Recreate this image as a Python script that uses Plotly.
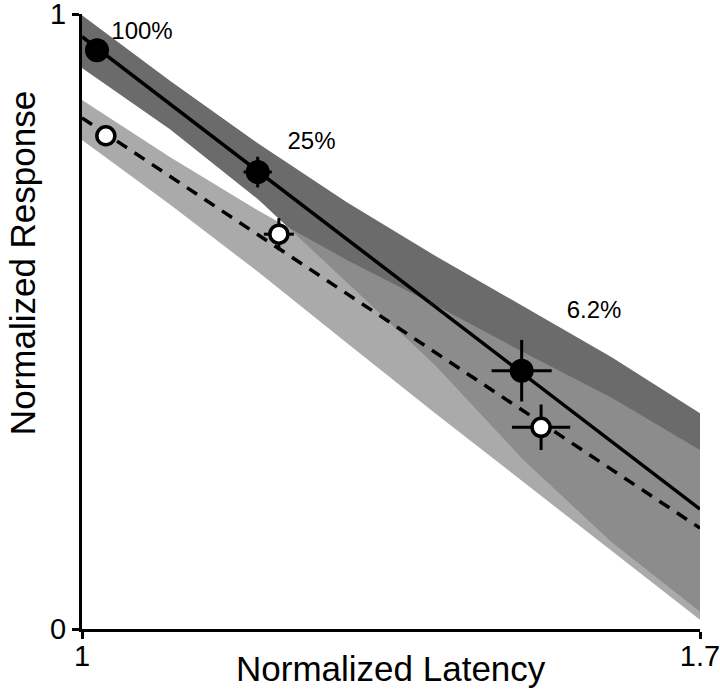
import plotly.graph_objects as go

# ---- data ----
# concentration labels
labels = ["100%", "25%", "6.2%"]

# filled points (solid series)
fill_x = [1.017, 1.199, 1.498]
fill_y = [0.941, 0.743, 0.420]
fill_xerr = [0.005, 0.016, 0.034]
fill_yerr = [0.008, 0.025, 0.050]

# open points (dashed series)
open_x = [1.027, 1.223, 1.520]
open_y = [0.802, 0.642, 0.328]
open_xerr = [0.004, 0.017, 0.033]
open_yerr = [0.006, 0.026, 0.037]

# regression lines
fit_x = [1.0, 1.7]
solid_fit_y = [0.963, 0.195]
dashed_fit_y = [0.831, 0.164]

# confidence bands
band_x = [1.0, 1.1, 1.2, 1.3, 1.4, 1.5, 1.6, 1.7]
solid_upper = [0.998, 0.891, 0.789, 0.694, 0.607, 0.525, 0.442, 0.351]
solid_lower = [0.912, 0.812, 0.698, 0.564, 0.429, 0.275, 0.141, 0.028]
dashed_upper = [0.860, 0.767, 0.680, 0.600, 0.527, 0.450, 0.376, 0.291]
dashed_lower = [0.795, 0.690, 0.580, 0.465, 0.351, 0.239, 0.127, 0.015]

# label positions (data coords)
label_x = [1.068, 1.260, 1.580]
label_y = [0.969, 0.790, 0.515]

FONT = "Liberation Sans, Arial, Helvetica, sans-serif"

fig = go.Figure()

# dark band
fig.add_trace(go.Scatter(
    x=band_x + band_x[::-1], y=solid_upper + solid_lower[::-1],
    fill="toself", fillcolor="rgb(107,107,107)", mode="lines",
    line=dict(width=0), hoverinfo="skip", showlegend=False))
# light band (translucent, on top)
fig.add_trace(go.Scatter(
    x=band_x + band_x[::-1], y=dashed_upper + dashed_lower[::-1],
    fill="toself", fillcolor="rgba(149,149,149,0.8)", mode="lines",
    line=dict(width=0), hoverinfo="skip", showlegend=False))

# fit lines
fig.add_trace(go.Scatter(x=fit_x, y=solid_fit_y, mode="lines",
                         line=dict(color="black", width=3.5), showlegend=False))
fig.add_trace(go.Scatter(x=fit_x, y=dashed_fit_y, mode="lines",
                         line=dict(color="black", width=3.5, dash="12px,9px"),
                         showlegend=False))

# open points
fig.add_trace(go.Scatter(
    x=open_x, y=open_y, mode="markers",
    marker=dict(size=18, color="white", line=dict(color="black", width=3.5)),
    error_x=dict(type="data", array=open_xerr, color="black", thickness=3, width=0),
    error_y=dict(type="data", array=open_yerr, color="black", thickness=3, width=0),
    cliponaxis=False, showlegend=False))

# filled points
fig.add_trace(go.Scatter(
    x=fill_x, y=fill_y, mode="markers",
    marker=dict(size=24, color="black", line=dict(width=0)),
    error_x=dict(type="data", array=fill_xerr, color="black", thickness=3, width=0),
    error_y=dict(type="data", array=fill_yerr, color="black", thickness=3, width=0),
    cliponaxis=False, showlegend=False))

# concentration labels
fig.add_trace(go.Scatter(
    x=label_x, y=label_y, mode="text", text=labels,
    textfont=dict(family=FONT, size=24, color="black"),
    textposition="middle center", cliponaxis=False, showlegend=False))

axis_common = dict(showgrid=False, zeroline=False, showline=True,
                   linecolor="black", linewidth=3, ticks="outside",
                   ticklen=7, tickwidth=3, tickcolor="black",
                   automargin=False, ticklabeloverflow="allow",
                   tickfont=dict(size=29, family=FONT))

fig.update_layout(
    width=720, height=690,
    margin=dict(l=82, r=20, t=14, b=61, autoexpand=False),
    paper_bgcolor="white", plot_bgcolor="white",
    font=dict(family=FONT, color="black"),
    xaxis=dict(range=[1, 1.7], tickvals=[1, 1.7], ticktext=["1", "1.7"],
               ticklabelstandoff=-8, **axis_common),
    yaxis=dict(range=[0, 1], tickvals=[0, 1], ticktext=["0", "1"], **axis_common),
    annotations=[
        dict(text="Normalized Latency", xref="paper", yref="paper",
             x=0.5, y=-0.064, xanchor="center", yanchor="middle",
             showarrow=False, font=dict(size=35, family=FONT)),
        dict(text="Normalized Response", xref="paper", yref="paper",
             x=-0.097, y=0.595, xanchor="center", yanchor="middle", textangle=-90,
             showarrow=False, font=dict(size=35, family=FONT)),
    ],
)

fig.write_html(
    "out.html",
    config={"displayModeBar": False},
    post_script="document.body.style.margin='0';document.body.style.padding='0';",
)
